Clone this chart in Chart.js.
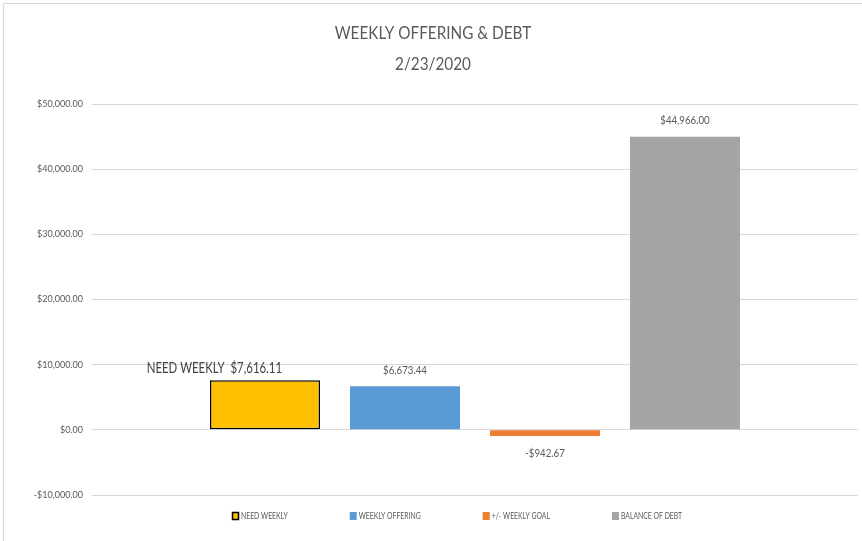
<!DOCTYPE html>
<html>
<head>
<meta charset="utf-8">
<script src="https://cdn.jsdelivr.net/npm/chart.js@4"></script>
<style>
html, body { margin: 0; padding: 0; background: #fff; }
#wrap { width: 862px; height: 541px; position: relative; }
</style>
</head>
<body>
<div id="wrap"><canvas id="offeringChart"></canvas></div>
<script>
// chart data
const titleLines = ['WEEKLY OFFERING & DEBT', '2/23/2020'];
const seriesNames = ['NEED WEEKLY', 'WEEKLY OFFERING', '+/- WEEKLY GOAL', 'BALANCE OF DEBT'];
const seriesValues = [7616.11, 6673.44, -942.67, 44966.00];
const seriesColors = ['#FFC000', '#5B9BD5', '#ED7D31', '#A5A5A5'];
const yMin = -10000;
const yMax = 50000;
const yStep = 10000;

const FONT = "Lato, 'Noto Sans', sans-serif";
const TEXT = '#595959';

const money = new Intl.NumberFormat('en-US', { style: 'currency', currency: 'USD' });

//narrow text, closer to the calibri look of the original
function narrowText(c, text, x, y, align, sx) {
    c.save();
    c.translate(x, y);
    c.scale(sx, 1);
    c.textAlign = align;
    c.fillText(text, 0, 0);
    c.restore();
}

const datasets = seriesNames.map((name, i) => ({
    label: name,
    data: [seriesValues[i]],
    backgroundColor: seriesColors[i],
    borderColor: i === 0 ? '#000000' : seriesColors[i],
    borderWidth: i === 0 ? 1.5 : 0,
    borderSkipped: false,
    categoryPercentage: 0.731,
    barPercentage: 0.786
}));

//thin frame line on top and left + the two line title
const framePlugin = {
    id: 'frame',
    beforeDraw(chart) {
        const c = chart.ctx;
        c.save();
        c.strokeStyle = '#d9d9d9';
        c.lineWidth = 1;
        c.beginPath();
        c.moveTo(3.5, 541);
        c.lineTo(3.5, 3.5);
        c.lineTo(862, 3.5);
        c.stroke();

        c.fillStyle = TEXT;
        c.font = '18px ' + FONT;
        c.textBaseline = 'middle';
        titleLines.forEach((line, i) => {
            narrowText(c, line, chart.width / 2 + 2, 33 + i * 31, 'center', 0.85);
        });
        c.restore();
    }
};

//value labels over / under each bar
const valueLabels = {
    id: 'valueLabels',
    afterDatasetsDraw(chart) {
        const c = chart.ctx;
        c.save();
        c.textBaseline = 'middle';
        chart.data.datasets.forEach((ds, i) => {
            const bar = chart.getDatasetMeta(i).data[0];
            const v = ds.data[0];
            if (i === 0) {
                c.font = '15px ' + FONT;
                c.fillStyle = '#404040';
                narrowText(c, ds.label + '  ' + money.format(v), bar.x + 17, bar.y - 12, 'right', 0.76);
                return;
            }
            c.font = '11px ' + FONT;
            c.fillStyle = TEXT;
            if (v >= 0) {
                narrowText(c, money.format(v), bar.x, bar.y - 16, 'center', 0.88);
            } else {
                narrowText(c, money.format(v), bar.x, bar.y + 17, 'center', 0.88);
            }
        });
        c.restore();
    }
};

//legend row at the bottom, excel style spacing
const legendRow = {
    id: 'legendRow',
    afterDraw(chart) {
        const c = chart.ctx;
        const gap = 62;
        const sx = 0.76;
        let x = 232;
        const y = 516;
        c.save();
        c.font = '9px ' + FONT;
        c.textBaseline = 'middle';
        chart.data.datasets.forEach((ds) => {
            c.fillStyle = ds.backgroundColor;
            c.fillRect(x, y - 4, 7, 8);
            if (ds.borderWidth) {
                c.strokeStyle = ds.borderColor;
                c.lineWidth = 1.5;
                c.strokeRect(x + 0.5, y - 3.5, 6, 7);
            }
            c.fillStyle = TEXT;
            narrowText(c, ds.label, x + 9, y, 'left', sx);
            x += 9 + c.measureText(ds.label).width * sx + gap;
        });
        c.restore();
    }
};

new Chart(document.getElementById('offeringChart'), {
    type: 'bar',
    data: {
        labels: [''],
        datasets: datasets
    },
    options: {
        responsive: true,
        maintainAspectRatio: false,
        animation: false,
        layout: {
            padding: { top: 104, right: 4, left: 4, bottom: 46 }
        },
        scales: {
            x: {
                display: false,
                grid: { display: false }
            },
            y: {
                min: yMin,
                max: yMax,
                border: { display: false },
                grid: { color: '#d9d9d9', drawTicks: false },
                ticks: {
                    stepSize: yStep,
                    padding: 9,
                    color: TEXT,
                    font: { family: FONT, size: 9 },
                    callback: v => money.format(v)
                },
                afterFit(scale) { scale.width = 88; }
            }
        },
        plugins: {
            title: { display: false },
            legend: { display: false },
            tooltip: { enabled: false }
        }
    },
    plugins: [framePlugin, valueLabels, legendRow]
});
</script>
</body>
</html>
